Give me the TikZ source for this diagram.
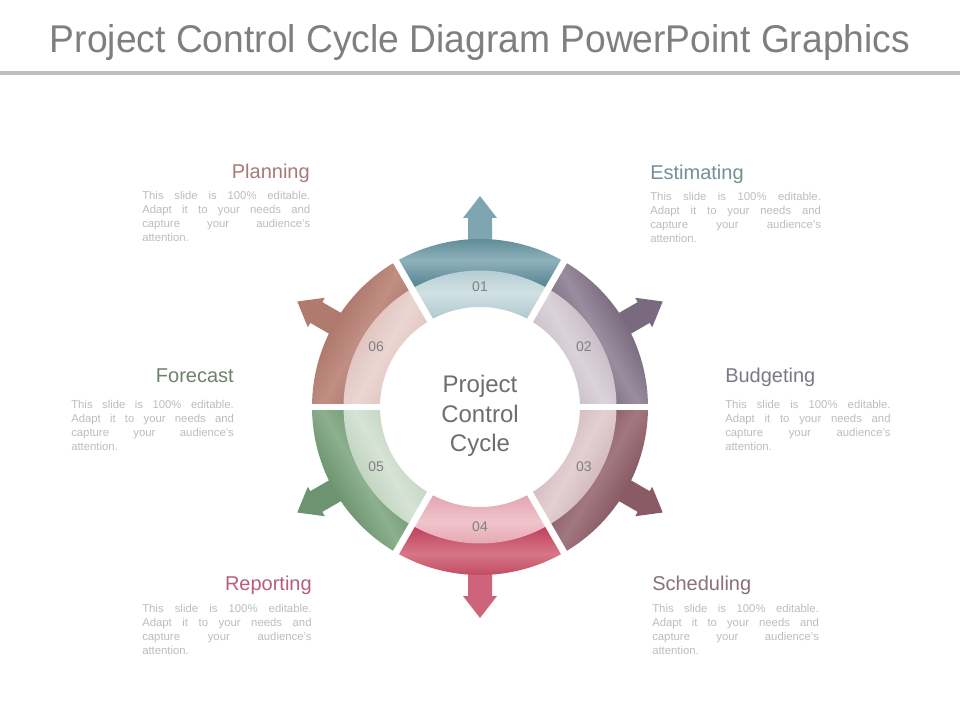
\documentclass[tikz,border=0pt]{standalone}
\usepackage{fontspec}
\setmainfont{Liberation Sans}
\usepackage{graphicx}
\definecolor{titlegray}{HTML}{7F7F7F}
\definecolor{rulegray}{HTML}{BEBEBE}
\definecolor{bodygray}{HTML}{BDBDBD}
\definecolor{numgray}{HTML}{808080}
\definecolor{centergray}{HTML}{6E6E6E}
\definecolor{hPlan}{HTML}{A67B77}
\definecolor{hEst}{HTML}{748F97}
\definecolor{hFore}{HTML}{6F816D}
\definecolor{hBud}{HTML}{7E7884}
\definecolor{hRep}{HTML}{B85E78}
\definecolor{hSch}{HTML}{8C6F79}
% segment colours: d edge dark, m mid dark, l edge light, k mid light, a arrow
\definecolor{d01}{HTML}{4F7F8C}\definecolor{m01}{HTML}{8FB2BC}\definecolor{l01}{HTML}{AFC8CE}\definecolor{k01}{HTML}{D0E0E4}\definecolor{a01}{HTML}{7FA5B0}
\definecolor{d02}{HTML}{5A4A60}\definecolor{m02}{HTML}{9B8DA0}\definecolor{l02}{HTML}{B9ADB7}\definecolor{k02}{HTML}{DCD3DA}\definecolor{a02}{HTML}{7A6A80}
\definecolor{d03}{HTML}{6E3E49}\definecolor{m03}{HTML}{A27880}\definecolor{l03}{HTML}{C6A9AE}\definecolor{k03}{HTML}{E3D0D3}\definecolor{a03}{HTML}{8A5A65}
\definecolor{d04}{HTML}{BB3D56}\definecolor{m04}{HTML}{D77688}\definecolor{l04}{HTML}{E2A2AE}\definecolor{k04}{HTML}{F0C4CC}\definecolor{a04}{HTML}{CD6479}
\definecolor{d05}{HTML}{4F7C52}\definecolor{m05}{HTML}{8DB08E}\definecolor{l05}{HTML}{B1C9B0}\definecolor{k05}{HTML}{D6E3D5}\definecolor{a05}{HTML}{6C9470}
\definecolor{d06}{HTML}{9E6356}\definecolor{m06}{HTML}{C08E83}\definecolor{l06}{HTML}{D9B6B0}\definecolor{k06}{HTML}{EBD6D2}\definecolor{a06}{HTML}{B07A6E}
\newcommand{\slidebody}[1]{\parbox[t]{#1}{\fontsize{8.5}{10.5}\selectfont
\makebox[#1][s]{This slide is 100\% editable.}\\
\makebox[#1][s]{Adapt it to your needs and}\\
\makebox[#1][s]{capture your audience's}\\
attention.}}
\tikzset{
  headtext/.style={inner sep=0pt, font=\fontsize{15}{15}\selectfont},
  bodytext/.style={inner sep=0pt, text=bodygray},
  numtext/.style={inner sep=0pt, text=numgray, font=\fontsize{10.5}{10.5}\selectfont},
}
\begin{document}
\begin{tikzpicture}[x=0.75pt,y=0.75pt]
\useasboundingbox (0,0) rectangle (960,-720);
\fill[white] (0,0) rectangle (960,-720);
% title
\node[anchor=base, inner sep=0pt, text=titlegray] (title) at (480,-53)
  {\resizebox{645pt}{21pt}{\fontsize{30}{30}\selectfont Project Control Cycle Diagram PowerPoint Graphics}};
\fill[rulegray] (0,-71) rectangle (960,-75);
% ring
\begin{scope}[shift={(480,-407)}]
  \foreach \a/\id in {60/01, 0/02, -60/03, -120/04, 180/05, 120/06}{
    \pgfmathsetmacro\c{\a+30}
    \pgfmathsetmacro\sa{\a-60}
    \pgfmathsetmacro\b{\a+60}
    \begin{scope}[rotate=\c]
      \fill[a\id] (150,-12) -- (189,-12) -- (189,-17) -- (211,0) -- (189,17) -- (189,12) -- (150,12) -- cycle;
    \end{scope}
    \shade[left color=d\id, right color=d\id, middle color=m\id, shading angle=\sa]
      (\a:136) arc[start angle=\a, end angle=\b, radius=136] -- (\b:168)
      arc[start angle=\b, end angle=\a, radius=168] -- cycle;
    \shade[left color=l\id, right color=l\id, middle color=k\id, shading angle=\sa]
      (\a:100) arc[start angle=\a, end angle=\b, radius=100] -- (\b:136.5)
      arc[start angle=\b, end angle=\a, radius=136.5] -- cycle;
  }
  \foreach \g in {0,60,...,300}{
    \draw[white, line width=5pt] (\g:90) -- (\g:176);
  }
  \node[numtext] (n01) at (90:120) {01};
  \node[numtext] (n02) at (30:120) {02};
  \node[numtext] (n03) at (-30:120) {03};
  \node[numtext] (n04) at (-90:120) {04};
  \node[numtext] (n05) at (210:120) {05};
  \node[numtext] (n06) at (150:120) {06};
\end{scope}
% centre text
\node[inner sep=0pt, align=center, text=centergray, font=\fontsize{18}{22}\selectfont] (centre) at (480,-416) {Project\\Control\\Cycle};
% headings
\node[headtext, text=hPlan, anchor=base east] (hplanning) at (310,-179) {Planning};
\node[headtext, text=hEst, anchor=base west] (hestimating) at (650,-180) {Estimating};
\node[headtext, text=hFore, anchor=base east] (hforecast) at (234,-382) {Forecast};
\node[headtext, text=hBud, anchor=base west] (hbudgeting) at (725,-382) {Budgeting};
\node[headtext, text=hRep, anchor=base east] (hreporting) at (312,-590) {Reporting};
\node[headtext, text=hSch, anchor=base west] (hscheduling) at (652,-590) {Scheduling};
% bodies
\node[bodytext, anchor=base west] (bplanning) at (142,-200) {\slidebody{126pt}};
\node[bodytext, anchor=base west] (bestimating) at (650,-201) {\slidebody{128pt}};
\node[bodytext, anchor=base west] (bforecast) at (71,-408) {\slidebody{122pt}};
\node[bodytext, anchor=base west] (bbudgeting) at (725,-408) {\slidebody{124pt}};
\node[bodytext, anchor=base west] (breporting) at (142,-612) {\slidebody{127pt}};
\node[bodytext, anchor=base west] (bscheduling) at (652,-612) {\slidebody{125pt}};
\end{tikzpicture}
\end{document}
